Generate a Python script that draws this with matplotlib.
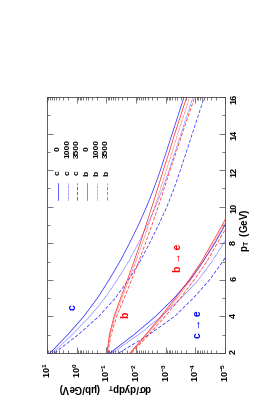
import numpy as np
import matplotlib
matplotlib.use('Agg')
import matplotlib.pyplot as plt
from matplotlib.ticker import LogLocator, MultipleLocator, NullFormatter

plt.rcParams['font.family'] = ['Liberation Sans', 'DejaVu Sans']
plt.rcParams['font.weight'] = 'bold'
plt.rcParams['mathtext.fontset'] = 'custom'
plt.rcParams['mathtext.rm'] = 'Liberation Sans:bold'
plt.rcParams['mathtext.it'] = 'Liberation Sans:bold'
plt.rcParams['mathtext.bf'] = 'Liberation Sans:bold'

# quark spectra, dsigma/dy dpT (mub/GeV) vs pT (GeV)
pt_q = [2, 3, 4, 5, 6, 7, 8, 9, 10, 11, 12, 13, 14, 15, 16]
c_0 = [7.9, 2.0, 0.575, 0.20, 0.081, 0.035, 0.0166, 8.3e-3, 4.4e-3, 2.5e-3, 1.5e-3, 9.5e-4, 6.0e-4, 3.8e-4, 2.4e-4]
c_1000 = [6.6, 1.41, 0.36, 0.112, 0.043, 0.0178, 8.3e-3, 4.2e-3, 2.2e-3, 1.26e-3, 7.6e-4, 4.8e-4, 3.0e-4, 1.9e-4, 1.2e-4]
c_3500 = [5.6, 0.89, 0.18, 0.050, 0.018, 7.4e-3, 3.5e-3, 1.74e-3, 9.1e-4, 5.2e-4, 3.2e-4, 2.0e-4, 1.26e-4, 7.9e-5, 5.0e-5]
b_0 = [0.095, 0.079, 0.055, 0.033, 0.0195, 0.0117, 7.2e-3, 4.6e-3, 2.9e-3, 1.86e-3, 1.2e-3, 7.6e-4, 4.9e-4, 3.1e-4, 1.95e-4]
b_1000 = [0.093, 0.076, 0.051, 0.030, 0.0174, 0.0102, 6.2e-3, 3.8e-3, 2.3e-3, 1.48e-3, 9.5e-4, 6.0e-4, 3.9e-4, 2.45e-4, 1.55e-4]
b_3500 = [0.089, 0.069, 0.045, 0.025, 0.0141, 8.1e-3, 4.8e-3, 2.9e-3, 1.78e-3, 1.12e-3, 7.1e-4, 4.4e-4, 2.75e-4, 1.7e-4, 1.05e-4]

# decay electrons
pt_e = [2, 3, 4, 5, 6, 7, 8, 9, 10, 11]
ce_0 = [0.076, 0.0117, 2.2e-3, 5.2e-4, 1.5e-4, 5.5e-5, 2.2e-5, 1.0e-5, 4.8e-6, 2.4e-6]
ce_1000 = [0.063, 8.3e-3, 1.38e-3, 3.0e-4, 7.9e-5, 2.75e-5, 1.12e-5, 5.0e-6, 2.4e-6, 1.2e-6]
ce_3500 = [0.038, 3.7e-3, 5.0e-4, 1.17e-4, 3.3e-5, 1.2e-5, 4.9e-6, 2.2e-6, 1.05e-6, 5.2e-7]
be_0 = [0.0158, 4.7e-3, 1.45e-3, 4.7e-4, 1.62e-4, 6.2e-5, 2.75e-5, 1.23e-5, 6.0e-6, 3.0e-6]
be_1000 = [0.0151, 4.3e-3, 1.29e-3, 4.1e-4, 1.41e-4, 5.4e-5, 2.4e-5, 1.07e-5, 5.2e-6, 2.6e-6]
be_3500 = [0.0141, 3.7e-3, 1.05e-3, 3.2e-4, 1.1e-4, 4.1e-5, 1.82e-5, 8.1e-6, 4.0e-6, 2.0e-6]

leg_flavour = ['c', 'c', 'c', 'b', 'b', 'b']
leg_value = ['0', '1000', '3500', '0', '1000', '3500']

BLUE = '#2020ff'
RED = '#ff2020'
styles = {'0': '-', '1000': (0, (1, 1)), '3500': (0, (5, 2.5))}
lw = 0.5

fig = plt.figure(figsize=(2.72, 4.18), dpi=100)
ax = fig.add_axes([47/272, 65/418, 178/272, 256/418])

# chart is drawn turned on its side: pT runs up, cross section runs right
curves = [(pt_q, c_0, BLUE, '0'), (pt_q, c_1000, BLUE, '1000'), (pt_q, c_3500, BLUE, '3500'),
          (pt_q, b_0, RED, '0'), (pt_q, b_1000, RED, '1000'), (pt_q, b_3500, RED, '3500'),
          (pt_e, ce_0, BLUE, '0'), (pt_e, ce_1000, BLUE, '1000'), (pt_e, ce_3500, BLUE, '3500'),
          (pt_e, be_0, RED, '0'), (pt_e, be_1000, RED, '1000'), (pt_e, be_3500, RED, '3500')]
for p, s, col, key in curves:
    ax.plot(s, p, color=col, ls=styles[key], lw=lw)

ax.set_xscale('log')
ax.set_xlim(10, 1e-5)
ax.set_ylim(2, 16)
ax.xaxis.set_major_locator(LogLocator(base=10, numticks=20))
ax.xaxis.set_minor_locator(LogLocator(base=10, subs=np.arange(2, 10), numticks=20))
ax.xaxis.set_minor_formatter(NullFormatter())
ax.yaxis.set_major_locator(MultipleLocator(2))
ax.yaxis.set_minor_locator(MultipleLocator(1))

ax.tick_params(which='both', direction='in', top=True, bottom=True, left=True, right=True,
               labelleft=False, labelright=True, labelsize=6.5, width=0.5, color='#444444')
ax.tick_params(which='major', length=4)
ax.tick_params(which='minor', length=2)
ax.tick_params(axis='x', labelrotation=90, pad=7)
ax.tick_params(axis='y', labelrotation=90, pad=3)
for sp in ax.spines.values():
    sp.set_linewidth(0.6)
    sp.set_color('#444444')

# curve labels
ax.text(1.33, 4.52, 'c', color='#0000ff', fontsize=7.5, rotation=90, ha='center', va='center')
ax.text(0.023, 4.08, 'b', color='#ff0000', fontsize=7.5, rotation=90, ha='center', va='center')
ax.text(3.8e-4, 7.2, 'b \u2192 e', color='#ff0000', fontsize=7.5, rotation=90, ha='center', va='center')
ax.text(8.1e-5, 3.55, 'c \u2192 e', color='#0000ff', fontsize=7.5, rotation=90, ha='center', va='center')

# legend, one column per curve
leg_x = [58.3, 67.7, 77.3, 86.7, 96.7, 106.7]
for i in range(6):
    xf = (leg_x[i] - 47) / 178
    col = BLUE if leg_flavour[i] == 'c' else RED
    ax.plot([xf, xf], [0.598, 0.664], transform=ax.transAxes, color=col,
            ls=styles[leg_value[i]], lw=lw)
    ax.text(xf, 0.703, leg_flavour[i], transform=ax.transAxes, fontsize=6,
            rotation=90, ha='center', va='center')
    ax.text(xf, 0.797, leg_value[i], transform=ax.transAxes, fontsize=6,
            rotation=90, ha='center', va='center')

# axis titles
fig.text(245/272, 1 - 230/418, r'p$_T$  (GeV)', fontsize=7, rotation=90, ha='center', va='center')
fig.text(105/272, 1 - 388/418, r'd$\sigma$/dydp$_T$   ($\mu$b/GeV)', fontsize=7,
         rotation=180, ha='center', va='center')

plt.savefig('out.png', dpi=100)
